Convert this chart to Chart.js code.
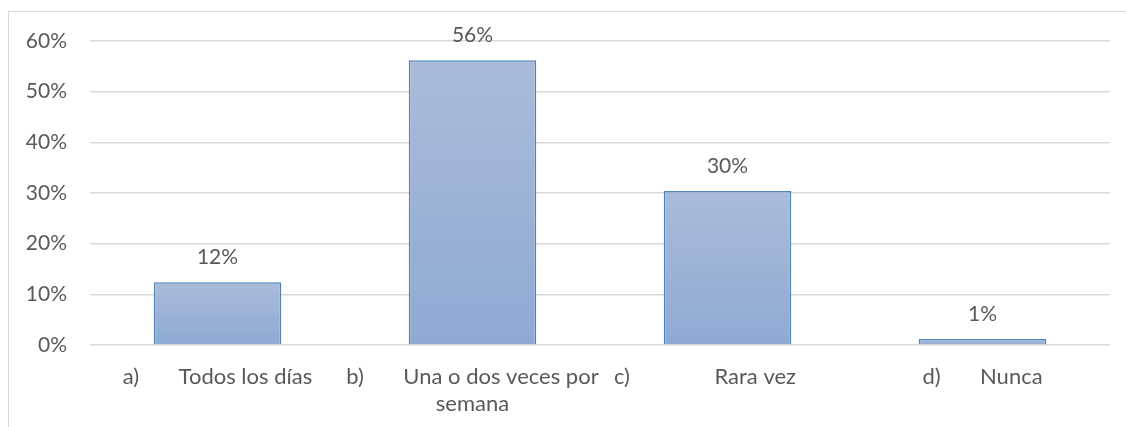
<!DOCTYPE html>
<html>
<head>
<meta charset="utf-8">
<script src="https://cdn.jsdelivr.net/npm/chart.js@4"></script>
<style>
  html, body { margin: 0; padding: 0; background: #ffffff; }
  #wrap { position: relative; width: 1126px; height: 427px; overflow: hidden; }
  #frame { position: absolute; left: 8px; top: 11px; width: 1200px; height: 500px; border: 1.5px solid #d9d9d9; box-sizing: border-box; }
  canvas { position: absolute; left: 0; top: 0; }
</style>
</head>
<body>
<div id="wrap">
  <div id="frame"></div>
  <canvas id="c" width="1126" height="427"></canvas>
</div>
<script>
// Data
const categories = [
  ['a)       Todos los días'],
  ['b)       Una o dos veces por', 'semana'],
  ['c)               Rara vez        '],
  ['d)       Nunca']
];
const values = [12.4, 56.2, 30.4, 1.2];
const yTicks = [0, 10, 20, 30, 40, 50, 60];

const FONT = 'Lato, "Open Sans", sans-serif';
const TEXT = '#595959';

const valueLabels = {
  id: 'valueLabels',
  afterDatasetsDraw(chart) {
    const ctx = chart.ctx;
    const meta = chart.getDatasetMeta(0);
    ctx.save();
    ctx.font = '21px ' + FONT;
    ctx.fillStyle = TEXT;
    ctx.textAlign = 'center';
    ctx.textBaseline = 'middle';
    meta.data.forEach((bar, i) => {
      ctx.fillText(Math.round(values[i]) + '%', bar.x, bar.y - 25);
    });
    ctx.restore();
  }
};

function barGradient(context) {
  const chart = context.chart;
  const ys = chart.scales.y;
  if (!ys || context.dataIndex === undefined) return '#9bb1d8';
  const v = values[context.dataIndex];
  const top = ys.getPixelForValue(v);
  const bottom = ys.getPixelForValue(0);
  if (!isFinite(top) || !isFinite(bottom) || top === bottom) return '#9bb1d8';
  const g = chart.ctx.createLinearGradient(0, top, 0, bottom);
  g.addColorStop(0, '#aabbda');
  g.addColorStop(1, '#8eaad4');
  return g;
}

new Chart(document.getElementById('c'), {
  type: 'bar',
  data: {
    labels: categories,
    datasets: [{
      data: values,
      backgroundColor: barGradient,
      borderColor: '#4f81bd',
      borderWidth: 1.5,
      borderSkipped: 'bottom',
      categoryPercentage: 1,
      barPercentage: 0.5
    }]
  },
  plugins: [valueLabels],
  options: {
    responsive: false,
    animation: false,
    devicePixelRatio: 1,
    layout: { padding: { left: 0, right: 16, top: 41, bottom: 0 } },
    plugins: { legend: { display: false }, tooltip: { enabled: false } },
    scales: {
      x: {
        grid: { display: false, drawTicks: false },
        border: { display: false },
        ticks: { color: TEXT, font: { family: FONT, size: 22 }, padding: 19, maxRotation: 0, autoSkip: false, lineHeight: 1.27 },
        afterFit(s) { s.height = 82; }
      },
      y: {
        min: 0, max: 60,
        afterBuildTicks(s) { s.ticks = yTicks.map(v => ({ value: v })); },
        grid: { color: '#d9d9d9', lineWidth: 1.5, drawTicks: false },
        border: { display: false },
        ticks: { color: TEXT, font: { family: FONT, size: 21 }, padding: 23, callback: v => v + '%' },
        afterFit(s) { s.width = 90; }
      }
    }
  }
});
</script>
</body>
</html>
